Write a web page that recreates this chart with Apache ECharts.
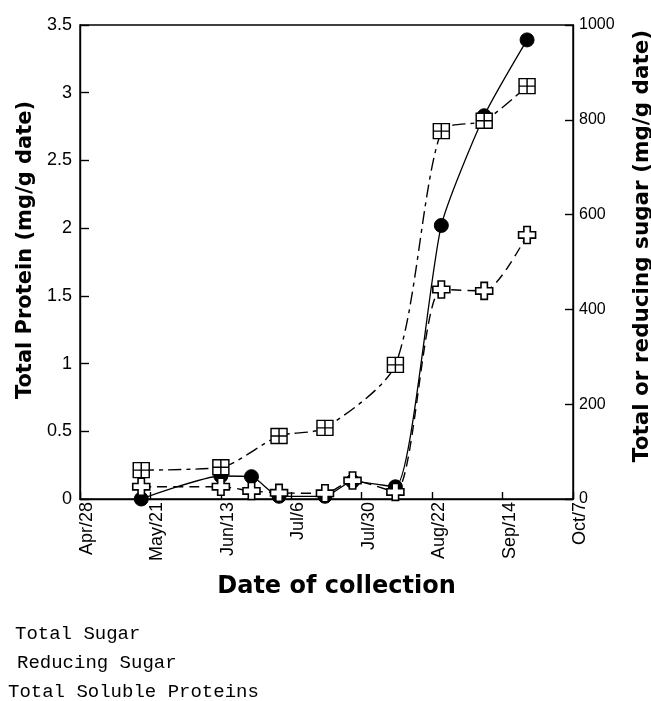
<!DOCTYPE html>
<html>
<head>
<meta charset="utf-8">
<script src="https://cdn.jsdelivr.net/npm/echarts@6/dist/echarts.min.js"></script>
<style>
html,body{margin:0;padding:0;background:#fff;}
#chart{width:651px;height:701px;}
</style>
</head>
<body>
<div id="chart"></div>
<script>
// Tick labels of the date axis (one tick every 23 days starting Apr/28)
var dateTickLabels = ['Apr/28', 'May/21', 'Jun/13', 'Jul/6', 'Jul/30', 'Aug/22', 'Sep/14', 'Oct/7'];
// Collection days, counted in days after Apr/28
var proteinDays  = [20, 46, 56, 65, 80, 89, 103, 118, 132, 146];
var totalSugarDays = [20, 46, 65, 80, 103, 118, 132, 146];
var reducingDays = [20, 46, 56, 65, 80, 89, 103, 118, 132, 146];
// Values
var totalProtein = [0, 0.17, 0.165, 0.02, 0.02, 0.13, 0.09, 2.02, 2.83, 3.39];   // mg/g date (left axis)
var totalSugar   = [61, 67, 133, 150, 283, 776, 798, 871];                      // mg/g date (right axis)
var reducingSugar = [26, 26, 17, 13, 12, 39, 15, 442, 439, 557];                 // mg/g date (right axis)

function pairs(xs, ys) { return xs.map(function (x, i) { return [x, ys[i]]; }); }

var SQUARE = 'path://M0,0H16V16H0Z M8,0V16 M0,8H16';
var PLUS = 'path://M5,0H11V5H16V11H11V16H5V11H0V5H5Z';
var sans = 'Liberation Sans, Arial, sans-serif';
var titleFont = 'DejaVu Sans, sans-serif';

var chart = echarts.init(document.getElementById('chart'), null, {renderer: 'canvas'});
chart.setOption({
  backgroundColor: '#fff',
  animation: false,
  grid: {left: 80, right: 78, top: 25, bottom: 202, containLabel: false, outerBoundsMode: 'none',
         show: true, borderColor: '#000', borderWidth: 1.4, backgroundColor: 'transparent'},
  legend: [
    {data: ['Total Sugar'], left: 10, top: 624, icon: 'none', itemWidth: 0, itemHeight: 0, padding: 0, selectedMode: false,
     textStyle: {fontFamily: 'Liberation Mono, monospace', fontSize: 19, color: '#000'}},
    {data: ['Reducing Sugar'], left: 12, top: 653, icon: 'none', itemWidth: 0, itemHeight: 0, padding: 0, selectedMode: false,
     textStyle: {fontFamily: 'Liberation Mono, monospace', fontSize: 19, color: '#000'}},
    {data: ['Total Soluble Proteins'], left: 3, top: 682, icon: 'none', itemWidth: 0, itemHeight: 0, padding: 0, selectedMode: false,
     textStyle: {fontFamily: 'Liberation Mono, monospace', fontSize: 19, color: '#000'}}
  ],
  xAxis: {
    type: 'value', min: 0, max: 161, interval: 23,
    name: 'Date of collection', nameLocation: 'middle', nameGap: 76,
    nameTextStyle: {fontFamily: titleFont, fontWeight: 'bold', fontSize: 24, color: '#000', padding: [0, 0, 0, 20]},
    axisLine: {show: true, lineStyle: {color: '#000', width: 1.4}},
    axisTick: {show: true, inside: true, length: 7, lineStyle: {color: '#000', width: 1.4}},
    axisLabel: {rotate: 90, margin: 3, fontFamily: sans, fontSize: 18, color: '#000',
      verticalAlign: 'top', lineHeight: 14,
      showMinLabel: true, showMaxLabel: true,
      formatter: function (v) { return dateTickLabels[Math.round(v / 23)]; }},
    splitLine: {show: false}
  },
  yAxis: [
    {
      type: 'value', min: 0, max: 3.5, interval: 0.5, position: 'left',
      name: 'Total Protein (mg/g date)', nameLocation: 'middle', nameGap: 40, nameRotate: 90,
      nameTextStyle: {fontFamily: titleFont, fontWeight: 'bold', fontSize: 21, color: '#000', padding: [0, 0, 0, 24]},
      axisLine: {show: true, lineStyle: {color: '#000', width: 1.4}},
      axisTick: {show: true, inside: true, length: 9, lineStyle: {color: '#000', width: 1.4}},
      axisLabel: {margin: 8, fontFamily: sans, fontSize: 18, color: '#000', formatter: function (v) { return String(v); }},
      splitLine: {show: false}
    },
    {
      type: 'value', min: 0, max: 1000, interval: 200, position: 'right',
      name: 'Total or reducing sugar (mg/g date)', nameLocation: 'middle', nameGap: 58, nameRotate: 90,
      nameTextStyle: {fontFamily: titleFont, fontWeight: 'bold', fontSize: 21.5, color: '#000', padding: [0, 0, 0, 32]},
      axisLine: {show: true, lineStyle: {color: '#000', width: 1.4}},
      axisTick: {show: true, inside: true, length: 8, lineStyle: {color: '#000', width: 1.4}},
      axisLabel: {margin: 6, fontFamily: sans, fontSize: 16, color: '#000', formatter: function (v) { return String(v); }},
      splitLine: {show: false}
    }
  ],
  series: [
    {
      name: 'Total Soluble Proteins', type: 'line', yAxisIndex: 0, smooth: 0.2,
      data: pairs(proteinDays, totalProtein),
      symbol: 'circle', symbolSize: 14,
      lineStyle: {color: '#000', width: 1.3, type: 'solid'},
      itemStyle: {color: '#000', borderColor: '#000', borderWidth: 1},
      emphasis: {disabled: true}
    },
    {
      name: 'Total Sugar', type: 'line', yAxisIndex: 1, smooth: 0.25,
      data: pairs(totalSugarDays, totalSugar),
      symbol: SQUARE, symbolSize: [16, 15], symbolKeepAspect: false,
      lineStyle: {color: '#000', width: 1.4, type: [13, 5, 4, 5]},
      itemStyle: {color: '#fff', borderColor: '#000', borderWidth: 1.4},
      emphasis: {disabled: true}
    },
    {
      name: 'Reducing Sugar', type: 'line', yAxisIndex: 1, smooth: 0.25,
      data: pairs(reducingDays, reducingSugar),
      symbol: PLUS, symbolSize: 17,
      lineStyle: {color: '#000', width: 1.4, type: [10, 6]},
      itemStyle: {color: '#fff', borderColor: '#000', borderWidth: 1.6},
      emphasis: {disabled: true}
    }
  ]
});
</script>
</body>
</html>
